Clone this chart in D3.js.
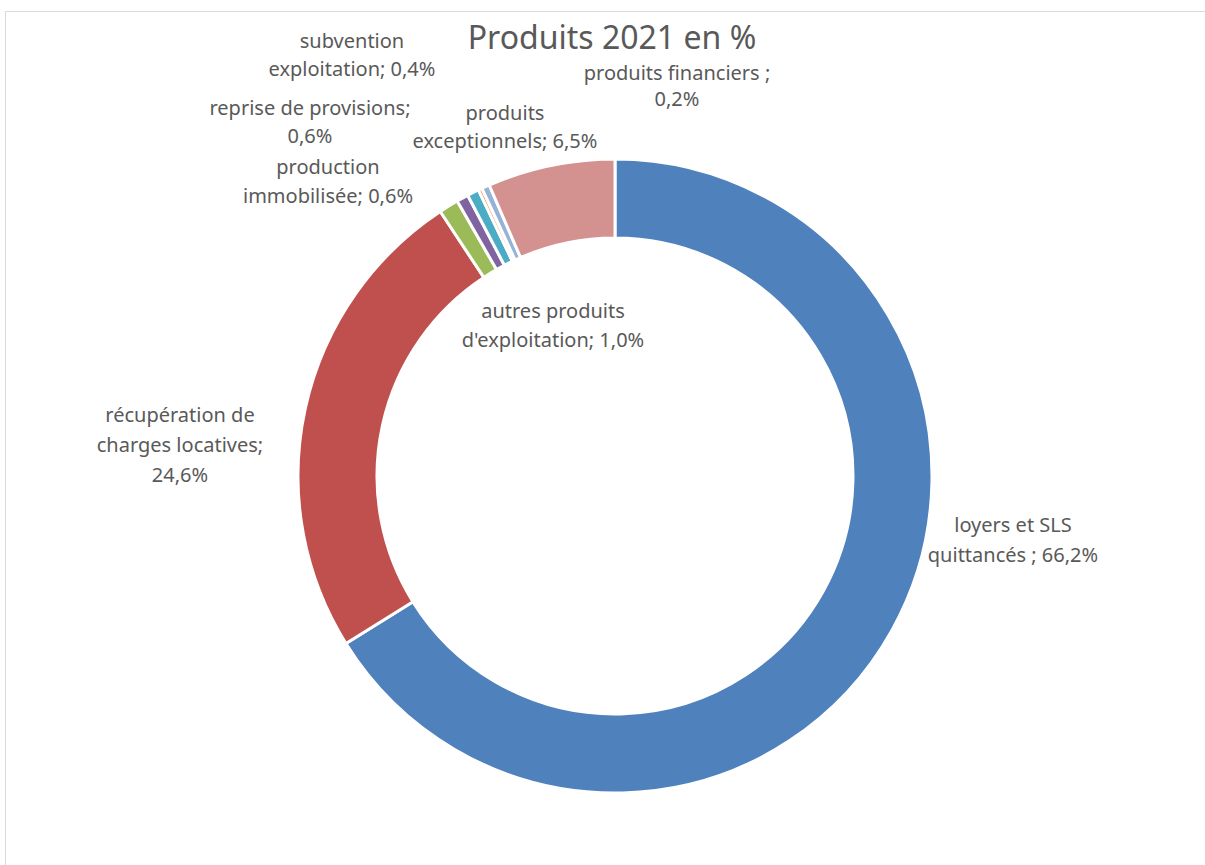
<!DOCTYPE html>
<html>
<head>
<meta charset="utf-8">
<script src="https://cdn.jsdelivr.net/npm/d3@7"></script>
<style>
  html, body { margin: 0; padding: 0; background: #fff; }
  svg { display: block; }
  text { font-family: "Noto Sans", "Open Sans", sans-serif; fill: #595959; }
</style>
</head>
<body>
<svg id="chart" width="1205" height="865"></svg>
<script>
// ---- data ----
const title = "Produits 2021 en %";
const categories = [
  "loyers et SLS quittancés ",
  "récupération de charges locatives",
  "autres produits d'exploitation",
  "production immobilisée",
  "reprise de provisions",
  "produits financiers ",
  "subvention exploitation",
  "produits exceptionnels"
];
const values = [66.2, 24.6, 1.0, 0.6, 0.6, 0.2, 0.4, 6.5];
const colors = ["#4F81BD", "#C0504D", "#9BBB59", "#8064A2", "#4BACC6", "#F79646", "#95B3D7", "#D39290"];
// words per wrapped line of each data label
const labelWrap = [[3, 3], [2, 2, 1], [2, 2], [1, 2], [3, 1], [3, 1], [1, 2], [1, 2]];

// ---- layout ----
const labelPos = [
  [1013, 532], [180, 422], [553, 318], [328, 174],
  [310, 115], [677, 80], [352, 48], [505, 120]
];
const labelLineH = [30, 30, 29, 29, 28, 26, 28, 28];
const cx = 615, cy = 476, outerR = 317, innerR = 238;

const svg = d3.select("#chart");

// chart border (Excel chart area)
svg.append("path")
  .attr("d", "M5.5,865 L5.5,11.5 L1205,11.5")
  .attr("fill", "none").attr("stroke", "#d9d9d9").attr("stroke-width", 1);

// title
svg.append("text")
  .attr("x", 612).attr("y", 49)
  .attr("text-anchor", "middle")
  .attr("font-size", 32)
  .text(title);

const pie = d3.pie().sort(null).value(d => d)(values);
const arc = d3.arc().innerRadius(innerR).outerRadius(outerR);

const g = svg.append("g").attr("transform", `translate(${cx},${cy})`);
g.selectAll("path.slice")
  .data(pie)
  .join("path")
  .attr("class", "slice")
  .attr("d", arc)
  .attr("fill", (d, i) => colors[i])
  .attr("stroke", "#fff")
  .attr("stroke-width", 3)
  .attr("stroke-linejoin", "round");

// data labels
const fmt = v => d3.format(".1f")(v).replace(".", ",") + "%";
categories.forEach((c, i) => {
  const full = c.endsWith(" ") ? c.trim() + " ; " + fmt(values[i]) : c + "; " + fmt(values[i]);
  const words = full.split(" ");
  const lines = [];
  let k = 0;
  labelWrap[i].forEach(n => { lines.push(words.slice(k, k + n).join(" ")); k += n; });
  const t = svg.append("text")
    .attr("text-anchor", "middle")
    .attr("font-size", 20);
  lines.forEach((ln, j) => {
    t.append("tspan")
      .attr("x", labelPos[i][0])
      .attr("y", labelPos[i][1] + j * labelLineH[i])
      .text(ln);
  });
});
</script>
</body>
</html>
